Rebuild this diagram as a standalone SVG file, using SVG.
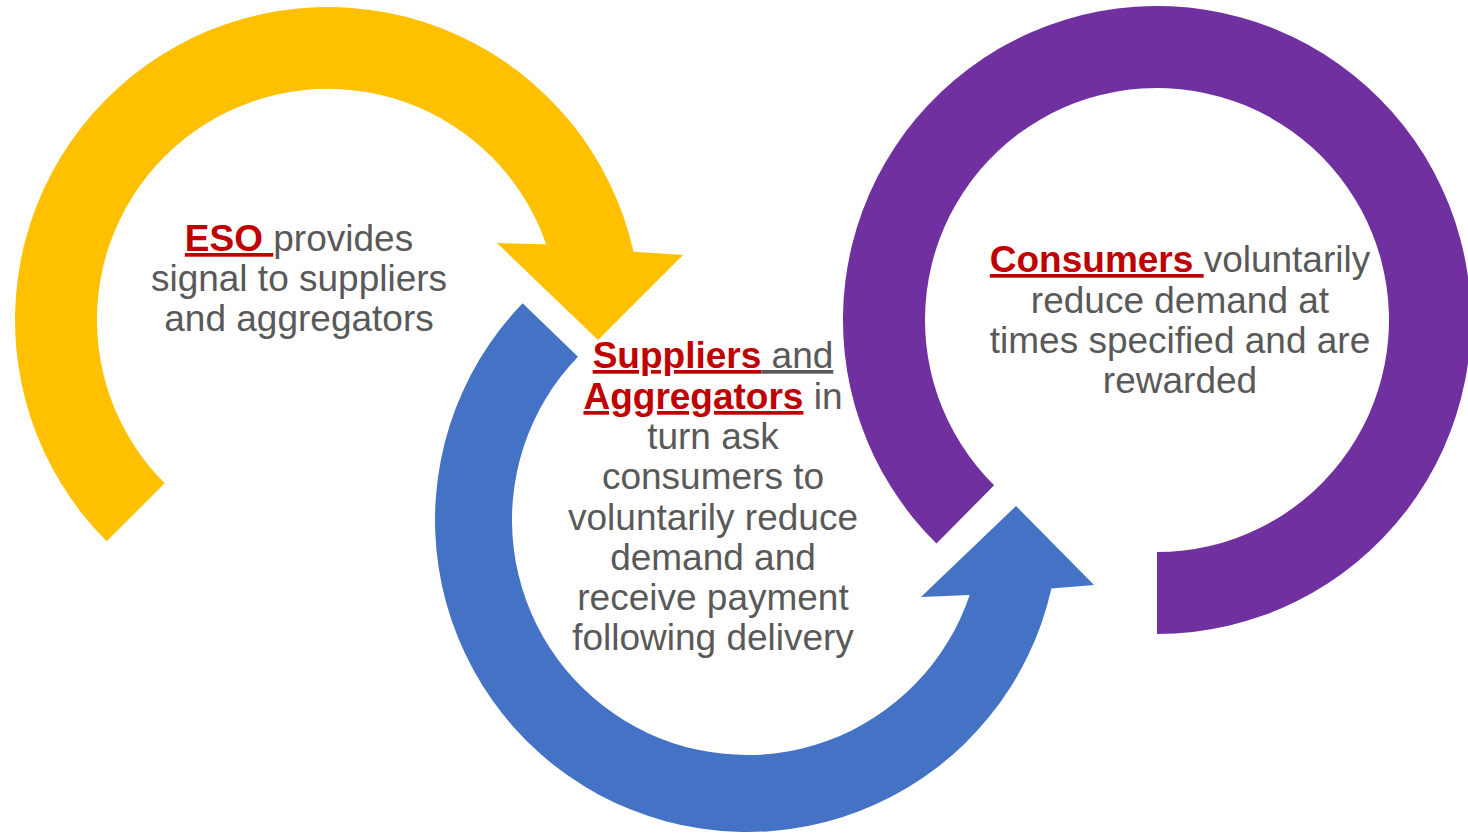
<svg xmlns="http://www.w3.org/2000/svg" width="1468" height="833" viewBox="0 0 1468 833">
<style>
.t{font-family:"Liberation Sans",Arial,sans-serif;font-size:37px;fill:#595959;text-anchor:middle;white-space:pre}
.k{font-weight:bold;fill:#C00000;text-decoration:underline}
.u{text-decoration:underline}
</style>
<rect width="1468" height="833" fill="#FFFFFF"/>
<g id="connectors">
<path id="arrow-yellow" fill="#FFC000" d="M106.7,541.3 A313,313 0 1 1 633.5,251.7 L683,255 L598,340 L497,243 L546.3,244.5 A231,231 0 1 0 164.7,483.3 Z"/>
<path id="arrow-blue" fill="#4472C4" d="M522.6,303.3 A312,312 0 1 0 1051.4,588.6 L1094,585 L1016,506 L921,597 L969.7,595 A235,235 0 1 1 578,356.7 Z"/>
<path id="arrow-purple" fill="#7030A0" d="M1157,634 A314,314 0 1 0 936.5,543.6 L994.1,485.2 A232,232 0 1 1 1157,552 Z"/>
</g>
<g id="node-eso">
<text class="t" x="299" y="251"><tspan class="k">ESO </tspan><tspan>provides</tspan></text>
<text class="t" x="299" y="291">signal to suppliers</text>
<text class="t" x="299" y="331">and aggregators</text>
</g>
<g id="node-suppliers">
<text class="t" x="713" y="368"><tspan class="k">Suppliers</tspan><tspan class="u"> and</tspan></text>
<text class="t" x="713" y="409"><tspan class="k">Aggregators</tspan><tspan> in</tspan></text>
<text class="t" x="713" y="449">turn ask</text>
<text class="t" x="713" y="489">consumers to</text>
<text class="t" x="713" y="530">voluntarily reduce</text>
<text class="t" x="713" y="570">demand and</text>
<text class="t" x="713" y="610">receive payment</text>
<text class="t" x="713" y="650">following delivery</text>
</g>
<g id="node-consumers">
<text class="t" x="1180" y="272"><tspan class="k">Consumers </tspan><tspan>voluntarily</tspan></text>
<text class="t" x="1180" y="313">reduce demand at</text>
<text class="t" x="1180" y="353">times specified and are</text>
<text class="t" x="1180" y="393">rewarded</text>
</g>
</svg>
